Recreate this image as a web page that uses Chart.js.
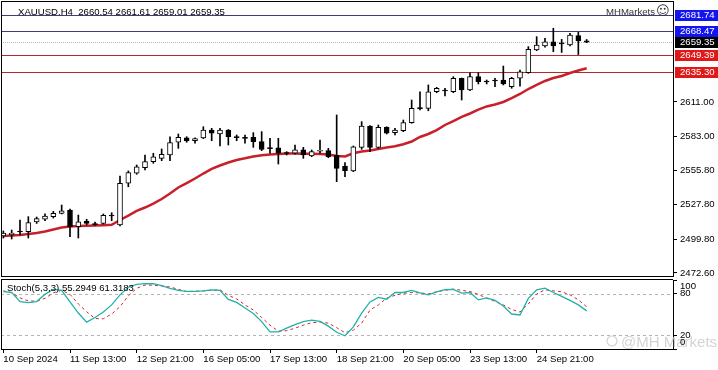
<!DOCTYPE html>
<html>
<head>
<meta charset="utf-8">
<script src="https://cdn.jsdelivr.net/npm/chart.js@4.4.1/dist/chart.umd.min.js"></script>
<style>
  body { margin: 0; background: #fff; }
  #wrap { position: relative; width: 718px; height: 370px; overflow: hidden; background: #fff; }
  #main { position: absolute; left: 0; top: 0; }
  #stoch { position: absolute; left: 0; top: 277px; }
</style>
</head>
<body>
<div id="wrap">
  <canvas id="main" width="718" height="277"></canvas>
  <canvas id="stoch" width="718" height="93"></canvas>
</div>
<script>
// XAUUSD H4 bars
var open = [2502.5, 2503.4, 2506.2, 2506.0, 2513.9, 2516.1, 2518.2, 2520.9, 2523.6, 2510.1,
  2514.7, 2512.0, 2512.8, 2519.3, 2511.5, 2545.2, 2553.3, 2557.8, 2562.7, 2565.4,
  2568.1, 2578.4, 2581.9, 2579.7, 2581.9, 2588.3, 2585.1, 2588.3, 2582.7, 2581.9,
  2582.4, 2578.9, 2573.8, 2574.0, 2569.7, 2569.5, 2572.2, 2567.3, 2571.1, 2571.6,
  2568.1, 2559.2, 2555.2, 2574.3, 2591.6, 2574.3, 2590.5, 2586.2, 2587.8, 2594.3,
  2606.2, 2605.9, 2619.3, 2620.3, 2619.3, 2630.2, 2620.7, 2631.5, 2627.6, 2628.4,
  2628.8, 2623.4, 2630.2, 2634.7, 2653.1, 2656.3, 2659.8, 2658.5, 2657.1, 2664.8,
  2660.54];
var high = [2506.6, 2507.4, 2515.5, 2518.2, 2517.9, 2520.4, 2522.5, 2527.6, 2524.4, 2519.5,
  2516.1, 2513.9, 2520.4, 2521.4, 2551.1, 2555.2, 2560.0, 2568.1, 2569.5, 2573.0,
  2582.9, 2585.1, 2582.9, 2581.9, 2591.0, 2589.7, 2589.7, 2588.7, 2584.3, 2584.3,
  2586.2, 2587.0, 2581.6, 2581.6, 2570.8, 2576.2, 2574.3, 2572.2, 2580.2, 2573.5,
  2600.5, 2561.9, 2575.4, 2595.1, 2592.0, 2592.4, 2591.0, 2589.7, 2596.4, 2612.6,
  2619.3, 2624.8, 2622.9, 2622.1, 2631.5, 2630.4, 2634.7, 2634.7, 2628.8, 2630.2,
  2640.1, 2631.0, 2636.9, 2655.8, 2663.9, 2662.6, 2670.7, 2661.7, 2666.6, 2667.5,
  2661.61];
var low = [2500.9, 2500.1, 2503.4, 2500.9, 2512.7, 2514.9, 2517.1, 2520.4, 2502.0, 2500.9,
  2511.5, 2511.2, 2512.3, 2514.9, 2510.6, 2542.4, 2552.5, 2556.0, 2561.4, 2563.5,
  2563.5, 2573.5, 2578.4, 2577.6, 2581.3, 2579.7, 2575.4, 2576.2, 2579.7, 2577.6,
  2574.3, 2571.6, 2569.5, 2560.8, 2568.1, 2568.7, 2565.4, 2566.7, 2569.5, 2565.9,
  2546.5, 2550.5, 2554.6, 2572.7, 2570.8, 2573.5, 2585.1, 2584.3, 2587.0, 2593.8,
  2604.5, 2603.9, 2618.5, 2615.9, 2618.5, 2612.6, 2620.1, 2625.6, 2625.6, 2623.4,
  2624.8, 2622.1, 2623.9, 2634.2, 2652.5, 2655.3, 2651.7, 2651.1, 2656.3, 2649.4,
  2659.01];
var close = [2505.0, 2505.0, 2505.8, 2513.3, 2516.6, 2518.7, 2520.9, 2523.0, 2510.1, 2514.1,
  2512.8, 2511.7, 2519.3, 2518.7, 2545.2, 2553.8, 2558.6, 2562.7, 2566.7, 2568.7,
  2578.1, 2582.4, 2579.5, 2581.3, 2588.3, 2585.7, 2588.3, 2582.9, 2582.2, 2581.5,
  2578.9, 2572.7, 2573.3, 2569.5, 2569.3, 2572.2, 2568.1, 2570.8, 2571.6, 2566.7,
  2557.3, 2555.4, 2574.8, 2591.6, 2574.3, 2590.5, 2585.7, 2588.3, 2594.3, 2605.9,
  2605.7, 2619.3, 2622.1, 2619.9, 2630.2, 2620.7, 2631.5, 2627.4, 2627.2, 2628.0,
  2625.6, 2630.2, 2635.5, 2653.7, 2657.1, 2659.8, 2656.3, 2658.1, 2665.2, 2660.4,
  2659.35];

// red moving average
var ma = [2502.5, 2502.9, 2503.4, 2504.2, 2505.0, 2506.2, 2507.8, 2509.4, 2510.2, 2510.6,
  2510.8, 2511.0, 2511.3, 2511.6, 2515.5, 2519.1, 2522.8, 2525.6, 2528.8, 2532.5,
  2536.9, 2541.8, 2545.4, 2549.1, 2553.1, 2556.8, 2559.6, 2562.0, 2564.1, 2565.4,
  2566.9, 2567.9, 2568.5, 2568.9, 2569.3, 2569.3, 2569.2, 2569.1, 2568.9, 2568.5,
  2567.3, 2566.9, 2569.5, 2570.9, 2571.7, 2573.0, 2574.1, 2575.2, 2576.8, 2579.0,
  2582.7, 2585.1, 2588.3, 2592.4, 2595.6, 2598.9, 2601.7, 2604.9, 2607.4, 2609.0,
  2611.0, 2614.2, 2617.5, 2621.5, 2624.8, 2628.0, 2630.4, 2632.1, 2634.5, 2636.5,
  2638.3];

// Stoch(5,3,3)
var stochK = [83.3, 82.1, 68.7, 67.2, 68.7, 79.2, 86.5, 85.1, 68.2, 52.1,
  39.0, 45.6, 53.6, 63.9, 78.5, 89.5, 93.6, 94.6, 94.6, 91.7,
  88.0, 85.1, 83.6, 83.6, 84.3, 85.8, 85.1, 71.9, 67.5, 59.5,
  51.4, 39.7, 24.8, 24.8, 30.2, 35.3, 39.7, 41.9, 40.1, 33.1,
  24.3, 19.2, 32.1, 52.1, 68.2, 74.8, 72.2, 81.9, 81.9, 84.8,
  81.4, 78.5, 82.9, 86.1, 86.5, 81.1, 81.9, 71.2, 74.1, 70.4,
  62.4, 50.7, 49.3, 73.4, 85.8, 88.3, 81.9, 76.3, 70.4, 63.9,
  55.2949];
var stochD = [84.3, 81.4, 74.1, 69.7, 69.3, 73.4, 81.4, 85.1, 79.2, 65.3,
  54.0, 44.1, 43.8, 50.7, 61.4, 77.0, 88.0, 92.7, 92.4, 91.2,
  89.9, 86.5, 83.3, 83.6, 84.3, 85.1, 85.8, 77.8, 72.6, 63.9,
  56.5, 45.6, 34.6, 25.8, 26.5, 30.2, 34.6, 38.2, 39.0, 37.5,
  30.9, 23.6, 27.3, 37.5, 56.5, 63.9, 73.7, 77.8, 80.7, 81.9,
  81.4, 79.9, 82.9, 85.1, 86.8, 85.1, 83.3, 79.2, 73.7, 69.0,
  63.9, 57.3, 53.6, 65.3, 79.9, 85.8, 84.3, 82.9, 78.5, 71.2,
  61.3183];

var priceTicks = [2611.00, 2583.00, 2555.80, 2527.80, 2499.80, 2472.60];
var levels = [2681.74, 2668.47, 2659.35, 2649.39, 2635.30];
var levelLine = ['#3c3c78', '#3c3c78', '#b8b8b8', '#b42828', '#b42828'];
var levelBox = ['#1414f0', '#1414f0', '#000000', '#e01818', '#e01818'];
var stochLevels = [100, 80, 20, 0];
var dateTickIdx = [0, 8, 16, 24, 32, 40, 48, 56, 64];
var dateTickText = ['10 Sep 2024', '11 Sep 13:00', '12 Sep 21:00', '16 Sep 05:00', '17 Sep 13:00',
  '18 Sep 21:00', '20 Sep 05:00', '23 Sep 13:00', '24 Sep 21:00'];

var FONT = "'Liberation Sans', Arial, sans-serif";
Chart.defaults.font.family = FONT;
Chart.defaults.font.size = 9.6;
Chart.defaults.color = '#000';

var xMin = -0.28, xMax = 80.36;
var last = close.length - 1;

var wickData = low.map(function (l, i) { return {x: i, y: [l, high[i]]}; });
var bodyData = open.map(function (o, i) { return {x: i, y: [Math.min(o, close[i]), Math.max(o, close[i])]}; });
var bodyFill = open.map(function (o, i) { return close[i] >= o ? '#ffffff' : '#000000'; });
var maData = ma.map(function (v, i) { return {x: i, y: v}; });

function noPad(s) {
    s.paddingTop = 0;
    s.paddingBottom = 0;
    s.paddingLeft = 0;
    s.paddingRight = 0;
}

// level lines, borders and texts of the price window
var mainDecor = {
    id: 'mainDecor',
    beforeDatasetsDraw: function (chart) {
        var ctx = chart.ctx, a = chart.chartArea, ys = chart.scales.y;
        ctx.save();
        levels.forEach(function (lv, k) {
            var py = Math.round(ys.getPixelForValue(lv)) + 0.5;
            ctx.strokeStyle = levelLine[k];
            ctx.lineWidth = 1;
            ctx.setLineDash(k === 2 ? [1, 1] : []);
            ctx.beginPath();
            ctx.moveTo(a.left, py);
            ctx.lineTo(a.right, py);
            ctx.stroke();
        });
        ctx.restore();
    },
    afterDraw: function (chart) {
        var ctx = chart.ctx, a = chart.chartArea, ys = chart.scales.y;
        ctx.save();
        ctx.strokeStyle = '#000';
        ctx.lineWidth = 1;
        ctx.beginPath();
        ctx.moveTo(a.left + 0.5, a.top);
        ctx.lineTo(a.left + 0.5, a.bottom);
        ctx.moveTo(a.left, a.top + 0.5);
        ctx.lineTo(a.right, a.top + 0.5);
        ctx.moveTo(a.left, a.bottom - 0.5);
        ctx.lineTo(a.right, a.bottom - 0.5);
        ctx.stroke();

        ctx.font = '9.6px ' + FONT;
        ctx.textBaseline = 'middle';
        levels.forEach(function (lv, k) {
            var py = Math.round(ys.getPixelForValue(lv));
            ctx.fillStyle = levelBox[k];
            ctx.fillRect(a.right + 2, py - 5, 718 - a.right - 2, 11);
            ctx.fillStyle = '#fff';
            ctx.textAlign = 'left';
            ctx.fillText(lv.toFixed(2), a.right + 7, py + 0.5);
        });

        ctx.fillStyle = '#000';
        ctx.textBaseline = 'alphabetic';
        ctx.fillText('XAUUSD.H4  ' + open[last].toFixed(2) + ' ' + high[last].toFixed(2) + ' ' +
            low[last].toFixed(2) + ' ' + close[last].toFixed(2), 18, 15);

        ctx.fillStyle = '#333';
        ctx.textAlign = 'right';
        ctx.textBaseline = 'middle';
        ctx.fillText('MHMarkets', 655, 12);
        ctx.font = "13px 'DejaVu Sans'";
        ctx.textAlign = 'left';
        ctx.fillText('\u263A', 656, 12);
        ctx.restore();
    }
};

// dashed levels, borders, labels and watermark of the stochastic window
var stochDecor = {
    id: 'stochDecor',
    beforeDatasetsDraw: function (chart) {
        var ctx = chart.ctx, a = chart.chartArea, ys = chart.scales.y;
        ctx.save();
        ctx.strokeStyle = '#b4b4b4';
        ctx.lineWidth = 1;
        ctx.setLineDash([3, 3]);
        [80, 20].forEach(function (v) {
            var py = Math.round(ys.getPixelForValue(v)) + 0.5;
            ctx.beginPath();
            ctx.moveTo(a.left, py);
            ctx.lineTo(a.right, py);
            ctx.stroke();
        });
        ctx.restore();
    },
    afterDraw: function (chart) {
        var ctx = chart.ctx, a = chart.chartArea, ys = chart.scales.y;
        ctx.save();
        ctx.strokeStyle = '#000';
        ctx.lineWidth = 1;
        ctx.beginPath();
        ctx.moveTo(a.left + 0.5, a.top);
        ctx.lineTo(a.left + 0.5, a.bottom);
        ctx.moveTo(a.left, a.top - 0.5);
        ctx.lineTo(a.right, a.top - 0.5);
        ctx.moveTo(a.left, a.bottom + 0.5);
        ctx.lineTo(a.right, a.bottom + 0.5);
        ctx.stroke();

        ctx.font = '9.6px ' + FONT;
        ctx.fillStyle = '#000';
        ctx.textBaseline = 'middle';
        ctx.textAlign = 'left';
        ctx.fillText('Stoch(5,3,3) ' + stochK[last].toFixed(4) + ' ' + stochD[last].toFixed(4), 7, 11);

        // light watermark
        ctx.fillStyle = 'rgba(200,200,200,0.8)';
        ctx.strokeStyle = 'rgba(200,200,200,0.8)';
        ctx.lineWidth = 1.2;
        ctx.beginPath();
        ctx.arc(612, 64, 5, 0, Math.PI * 2);
        ctx.stroke();
        ctx.font = '15px ' + FONT;
        ctx.textBaseline = 'alphabetic';
        ctx.fillText('@MH Markets', 621, 70);

        ctx.font = '9.6px ' + FONT;
        ctx.fillStyle = '#000';
        ctx.textBaseline = 'middle';
        stochLevels.forEach(function (v) {
            var py = ys.getPixelForValue(v);
            py = Math.min(Math.max(py, a.top + 6), a.bottom - 7);
            ctx.fillText(String(v), a.right + 7, py);
        });
        ctx.restore();
    }
};

new Chart(document.getElementById('main'), {
    type: 'bar',
    data: {
        datasets: [
            {type: 'line', data: maData, borderColor: '#c8202a', borderWidth: 2.5, pointRadius: 0, order: 3},
            {data: wickData, backgroundColor: '#000', barThickness: 1, grouped: false, order: 2},
            {data: bodyData, backgroundColor: bodyFill, borderColor: '#000', borderWidth: 1,
                borderSkipped: false, barThickness: 5, minBarLength: 1, grouped: false, order: 1}
        ]
    },
    options: {
        responsive: false, animation: false, devicePixelRatio: 1,
        layout: {padding: {left: 1, top: 1, right: 0, bottom: 0}},
        plugins: {legend: {display: false}, tooltip: {enabled: false}},
        scales: {
            x: {type: 'linear', min: xMin, max: xMax, offset: false, display: false},
            y: {
                position: 'right', min: 2469.35, max: 2692.75,
                afterFit: function (s) { s.width = 45; noPad(s); },
                afterBuildTicks: function (s) { s.ticks = priceTicks.map(function (v) { return {value: v}; }); },
                ticks: {callback: function (v) { return v.toFixed(2); }, padding: 3},
                grid: {drawOnChartArea: false, tickLength: 4, color: '#000'},
                border: {color: '#000'}
            }
        }
    },
    plugins: [mainDecor]
});

new Chart(document.getElementById('stoch'), {
    type: 'line',
    data: {
        datasets: [
            {data: stochK.map(function (v, i) { return {x: i, y: v}; }), borderColor: '#20b2aa',
                borderWidth: 1.3, pointRadius: 0},
            {data: stochD.map(function (v, i) { return {x: i, y: v}; }), borderColor: '#d02828',
                borderWidth: 1, borderDash: [3, 3], pointRadius: 0}
        ]
    },
    options: {
        responsive: false, animation: false, devicePixelRatio: 1,
        layout: {padding: {left: 1, top: 3, right: 0, bottom: 0}},
        plugins: {legend: {display: false}, tooltip: {enabled: false}},
        scales: {
            x: {
                type: 'linear', min: xMin, max: xMax, offset: false,
                afterBuildTicks: function (s) { s.ticks = dateTickIdx.map(function (v) { return {value: v}; }); },
                afterFit: function (s) { s.height = 21; noPad(s); },
                ticks: {callback: function (v, i) { return dateTickText[i]; }, align: 'start',
                    autoSkip: false, maxRotation: 0, padding: 1},
                grid: {drawOnChartArea: false, tickLength: 4, color: '#000', offset: false},
                border: {display: false}
            },
            y: {
                position: 'right', min: 0, max: 100,
                afterFit: function (s) { s.width = 45; noPad(s); },
                afterBuildTicks: function (s) { s.ticks = stochLevels.map(function (v) { return {value: v}; }); },
                ticks: {display: false},
                grid: {drawOnChartArea: false, tickLength: 4, color: '#000'},
                border: {color: '#000'}
            }
        }
    },
    plugins: [stochDecor]
});
</script>
</body>
</html>
